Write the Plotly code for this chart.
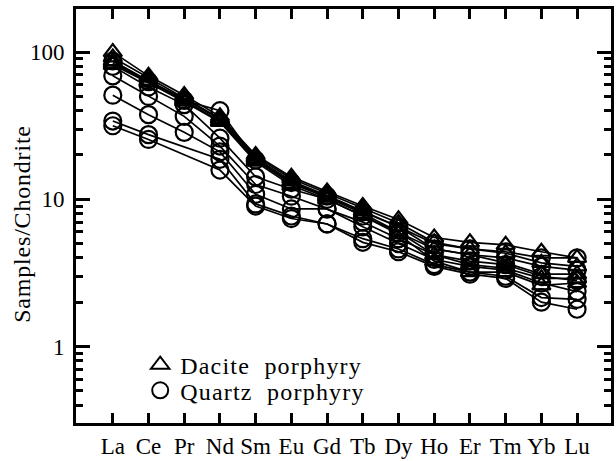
import plotly.graph_objects as go

# Chondrite-normalised REE patterns
elements = ["La", "Ce", "Pr", "Nd", "Sm", "Eu", "Gd", "Tb", "Dy", "Ho", "Er", "Tm", "Yb", "Lu"]

dacite_1 = [100, 69, 51, 36.6, 20, 14.2, 11.3, 9.0, 7.3, 5.5, 5.1, 4.9, 4.4, 4.0]
dacite_2 = [92, 67, 49, 35.5, 19.5, 13.8, 11.0, 8.7, 6.9, 5.1, 4.6, 4.3, 3.7, 3.5]
dacite_3 = [87, 64, 48, 35, 19, 13.3, 10.6, 8.3, 6.5, 4.6, 4.2, 3.7, 3.1, 3.1]
dacite_4 = [84, 63, 47, 34, 18.5, 12.8, 10.3, 8.0, 6.0, 4.2, 3.6, 3.4, 2.9, 2.9]
dacite_5 = [82, 62, 46, 33.5, 18, 12.4, 10.0, 7.7, 5.8, 3.8, 3.2, 3.2, 2.6, 2.7]

quartz_1 = [87, 63, 47, 40, 18.5, 13, 10.5, 8.2, 6.5, 5.0, 4.6, 4.4, 4.0, 4.0]
quartz_2 = [80, 58, 44, 26, 14.2, 11.7, 10.0, 7.7, 5.9, 4.6, 4.2, 4.0, 3.5, 3.3]
quartz_3 = [69, 50, 36.6, 23, 12.6, 10.5, 8.6, 7.0, 5.4, 4.2, 3.8, 3.6, 3.0, 2.8]
quartz_4 = [51, 37.6, 28.5, 21, 10.8, 8.6, 8.6, 6.5, 5.0, 3.9, 3.5, 3.3, 2.7, 2.36]
quartz_5 = [34, 27.5, None, 18.7, 9.3, 7.7, 6.8, 5.4, 4.6, 3.6, 3.2, 3.0, 2.15, 2.09]
quartz_6 = [31.6, 25.5, None, 15.8, 9.0, 7.4, 6.8, 5.1, 4.4, 3.5, 3.1, 2.9, 2.0, 1.79]

dacite = [dacite_1, dacite_2, dacite_3, dacite_4, dacite_5]
quartz = [quartz_1, quartz_2, quartz_3, quartz_4, quartz_5, quartz_6]

y_ticks = [1, 10, 100]
y_minor = [m * d for d in (0.1, 1, 10, 100) for m in range(2, 10)]

FONT = "Liberation Serif, Times New Roman, serif"
INK = "#000000"


def spaced(text, px):
    return f'<span style="letter-spacing:{px}px">{text}</span>'


fig = go.Figure()

for s in quartz:
    fig.add_trace(go.Scatter(
        x=elements, y=s, mode="lines+markers", connectgaps=True, showlegend=False,
        line=dict(color=INK, width=1.7),
        marker=dict(symbol="circle-open", size=17, color=INK, line=dict(width=2.2)),
    ))

for s in dacite:
    fig.add_trace(go.Scatter(
        x=elements, y=s, mode="lines+markers", showlegend=False,
        line=dict(color=INK, width=1.7),
        marker=dict(symbol="triangle-up-open", size=16, color=INK, line=dict(width=2.2)),
    ))

# legend entries (symbols only), one legend box per rock type
fig.add_trace(go.Scatter(
    x=[None], y=[None], mode="markers", name=spaced("Dacite  porphyry", 1.2), legend="legend",
    marker=dict(symbol="triangle-up-open", size=18, color=INK, line=dict(width=2)),
))
fig.add_trace(go.Scatter(
    x=[None], y=[None], mode="markers", name=spaced("Quartz  porphyry", 1.2), legend="legend2",
    marker=dict(symbol="circle-open", size=18, color=INK, line=dict(width=2)),
))

axis_common = dict(
    showline=True, linewidth=3, linecolor=INK, mirror="allticks",
    ticks="inside", tickcolor=INK, showgrid=False, zeroline=False,
    tickfont=dict(family=FONT, size=23, color=INK),
)

fig.update_xaxes(
    **axis_common, type="category", range=[-1.03, 13.95],
    ticklen=10, tickwidth=3,
)
fig.update_yaxes(
    **axis_common, type="log", range=[-0.52, 2.293],
    tickvals=y_ticks, ticktext=[str(v) for v in y_ticks],
    ticklen=14, tickwidth=3, ticklabelstandoff=4,
    minor=dict(tickmode="array", tickvals=y_minor, ticks="inside", ticklen=7,
               tickwidth=3, tickcolor=INK, showgrid=False),
)

# y-axis title
fig.add_annotation(
    text=spaced("Samples/Chondrite", 0.8), textangle=-90,
    xref="paper", yref="paper", x=-0.100, y=0.48,
    xanchor="center", yanchor="middle", showarrow=False,
    font=dict(family=FONT, size=24, color=INK),
)

legend_style = dict(
    xanchor="left", yanchor="middle", bgcolor="rgba(0,0,0,0)",
    font=dict(family=FONT, size=24, color=INK), itemwidth=30,
)
fig.update_layout(
    width=616, height=461,
    margin=dict(l=76, r=2, t=9, b=30),
    paper_bgcolor="white", plot_bgcolor="white",
    showlegend=True,
    legend=dict(x=0.12, y=0.14, **legend_style),
    legend2=dict(x=0.12, y=0.078, **legend_style),
)

fig.write_html("out.html")
